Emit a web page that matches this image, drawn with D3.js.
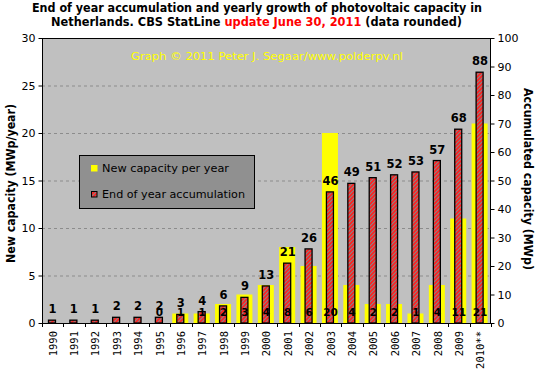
<!DOCTYPE html>
<html><head><meta charset="utf-8">
<script src="https://cdn.jsdelivr.net/npm/d3@7"></script>
<style>
html,body{margin:0;padding:0;background:#fff;}
svg{display:block;}
</style></head>
<body>
<svg id="c" width="541" height="374"></svg>
<script>
const years = ["1990","1991","1992","1993","1994","1995","1996","1997","1998","1999","2000","2001","2002","2003","2004","2005","2006","2007","2008","2009","2010**"];
const newCapacity = [null,null,null,null,null,0,1,1,2,3,4,8,6,20,4,2,2,1,4,11,21];
const accumulated = [1,1,1,2,2,2,3,4,6,9,13,21,26,46,49,51,52,53,57,68,88];
const leftTicks = [0,5,10,15,20,25,30];
const leftMinor = d3.range(0,31,1);
const rightTicks = [0,10,20,30,40,50,60,70,80,90,100];
const rightMinor = d3.range(0,101,2);
const gridTicks = [5,10,15,20,25];

const svg = d3.select("#c");
const X0=42, X1=491, Y0=38, Y1=323;
const x = d3.scaleBand().domain(years).range([X0,X1]).padding(0);
const yL = d3.scaleLinear().domain([0,30]).range([Y1,Y0]);
const yR = d3.scaleLinear().domain([0,100]).range([Y1,Y0]);
const bw = x.bandwidth();
const cx = d => x(d) + bw/2 - 0.7;

const defs = svg.append("defs");
const pat = defs.append("pattern").attr("id","hatch").attr("patternUnits","userSpaceOnUse")
  .attr("width",4).attr("height",4);
pat.append("rect").attr("width",4).attr("height",4).attr("fill","#ff2020");
pat.append("path").attr("d","M-1,1 L1,-1 M0,4 L4,0 M3,5 L5,3").attr("stroke","#858585").attr("stroke-width",1.1);

// plot background
svg.append("rect").attr("x",X0).attr("y",Y0).attr("width",X1-X0).attr("height",Y1-Y0).attr("fill","#c0c0c0");

// grid
svg.append("g").selectAll("line").data(gridTicks).join("line")
  .attr("x1",X0).attr("x2",X1).attr("y1",d=>yL(d)+0.5).attr("y2",d=>yL(d)+0.5)
  .attr("stroke","#8c8c8c").attr("stroke-dasharray","3,3").attr("stroke-width",1);

// title
svg.append("text").attr("x",257).attr("y",12).attr("text-anchor","middle")
  .attr("font-family","DejaVu Sans").attr("font-weight","bold").attr("font-size",11.5)
  .attr("textLength",450).attr("lengthAdjust","spacingAndGlyphs")
  .text("End of year accumulation and yearly growth of photovoltaic capacity in");
const t2 = svg.append("text").attr("x",256.5).attr("y",25.5).attr("text-anchor","middle")
  .attr("font-family","DejaVu Sans").attr("font-weight","bold").attr("font-size",11.5)
  .attr("textLength",411).attr("lengthAdjust","spacingAndGlyphs");
t2.append("tspan").text("Netherlands. CBS StatLine ");
t2.append("tspan").attr("fill","#ff0000").text("update June 30, 2011");
t2.append("tspan").text(" (data rounded)");

// watermark
svg.append("text").attr("x",267).attr("y",60).attr("text-anchor","middle")
  .attr("font-family","DejaVu Sans").attr("font-size",11).attr("fill","#ffff00")
  .attr("textLength",272).attr("lengthAdjust","spacingAndGlyphs")
  .text("Graph \u00a9 2011 Peter J. Segaar/www.polderpv.nl");

// yellow bars
const yw = 16;
svg.append("g").selectAll("rect").data(years.map((y,i)=>({y,v:newCapacity[i]})).filter(d=>d.v!==null && d.v>0))
  .join("rect").attr("x",d=>cx(d.y)-yw/2).attr("width",yw)
  .attr("y",d=>yL(d.v)).attr("height",d=>Y1-yL(d.v)).attr("fill","#ffff00");

// red bars
const rw = 7;
svg.append("g").selectAll("rect").data(years.map((y,i)=>({y,v:accumulated[i]})))
  .join("rect").attr("x",d=>cx(d.y)-rw/2).attr("width",rw)
  .attr("y",d=>yR(d.v)).attr("height",d=>Y1-yR(d.v))
  .attr("fill","url(#hatch)").attr("stroke","#000").attr("stroke-width",1.3);

// top labels
svg.append("g").selectAll("text").data(years.map((y,i)=>({y,v:accumulated[i]})))
  .join("text").attr("x",d=>cx(d.y)+0.5).attr("y",d=>yR(d.v)-7).attr("text-anchor","middle")
  .attr("font-family","DejaVu Sans").attr("font-weight","bold").attr("font-size",11.5).attr("fill","#000")
  .text(d=>d.v);

// bottom labels
svg.append("g").selectAll("text").data(years.map((y,i)=>({y,v:newCapacity[i]})).filter(d=>d.v!==null))
  .join("text").attr("x",d=>cx(d.y)+0.5).attr("y",316).attr("text-anchor","middle")
  .attr("font-family","DejaVu Sans").attr("font-weight","bold").attr("font-size",10.5).attr("fill","#000")
  .text(d=>d.v);

// border
svg.append("rect").attr("x",X0+0.5).attr("y",Y0+0.5).attr("width",X1-X0-1).attr("height",Y1-Y0)
  .attr("fill","none").attr("stroke","#000").attr("stroke-width",1);

// left axis
const gL = svg.append("g").attr("transform",`translate(${X0+0.5},0)`);
gL.call(d3.axisLeft(yL).tickValues(leftMinor).tickSize(2).tickFormat(""));
gL.call(d3.axisLeft(yL).tickValues(leftTicks).tickSize(4).tickPadding(3));
gL.selectAll(".domain").remove();
gL.selectAll("text").attr("font-family","DejaVu Sans").attr("font-size",11).attr("fill","#000");

// right axis
const gR = svg.append("g").attr("transform",`translate(${X1-0.5},0)`);
gR.call(d3.axisRight(yR).tickValues(rightMinor).tickSize(2).tickFormat(""));
gR.call(d3.axisRight(yR).tickValues(rightTicks).tickSize(4).tickPadding(3));
gR.selectAll(".domain").remove();
gR.selectAll("text").attr("font-family","DejaVu Sans").attr("font-size",11).attr("fill","#000");

// x axis ticks at band boundaries
const bounds = years.map(d=>x(d)).concat([X1]);
svg.append("g").selectAll("line").data(bounds).join("line")
  .attr("x1",d=>Math.round(d)+0.5).attr("x2",d=>Math.round(d)+0.5).attr("y1",Y1).attr("y2",Y1+4)
  .attr("stroke","#000");
svg.append("line").attr("x1",X0).attr("x2",X1).attr("y1",Y1+0.5).attr("y2",Y1+0.5).attr("stroke","#000");

// x labels
svg.append("g").selectAll("text").data(years).join("text")
  .attr("transform",d=>`translate(${cx(d)+1},331) rotate(-90)`)
  .attr("text-anchor","end").attr("dy","0.35em")
  .attr("font-family","DejaVu Sans Mono").attr("font-size",10.5).attr("fill","#000")
  .text(d=>d);

// axis titles
svg.append("text").attr("transform","translate(10.5,183.5) rotate(-90)").attr("text-anchor","middle")
  .attr("dy","0.35em").attr("font-family","DejaVu Sans").attr("font-weight","bold").attr("font-size",11.5)
  .attr("textLength",159).attr("lengthAdjust","spacingAndGlyphs")
  .text("New capacity (MWp/year)");
svg.append("text").attr("transform","translate(528,179) rotate(90)").attr("text-anchor","middle")
  .attr("dy","0.35em").attr("font-family","DejaVu Sans").attr("font-weight","bold").attr("font-size",11.5)
  .attr("textLength",182).attr("lengthAdjust","spacingAndGlyphs")
  .text("Accumulated capacity (MWp)");

// legend
const lg = svg.append("g");
lg.append("rect").attr("x",79.5).attr("y",155.5).attr("width",175).attr("height",53)
  .attr("fill","#909090").attr("stroke","#000").attr("stroke-width",1);
lg.append("rect").attr("x",91).attr("y",165).attr("width",6.5).attr("height",6.5).attr("fill","#ffff00");
lg.append("rect").attr("x",91.5).attr("y",191.5).attr("width",5.5).attr("height",5.5)
  .attr("fill","url(#hatch)").attr("stroke","#000").attr("stroke-width",1);
lg.append("text").attr("x",102).attr("y",172).attr("font-family","DejaVu Sans").attr("font-size",11)
  .attr("textLength",127).attr("lengthAdjust","spacingAndGlyphs").text("New capacity per year");
lg.append("text").attr("x",102).attr("y",197.5).attr("font-family","DejaVu Sans").attr("font-size",11)
  .attr("textLength",143).attr("lengthAdjust","spacingAndGlyphs").text("End of year accumulation");
</script>
</body></html>
